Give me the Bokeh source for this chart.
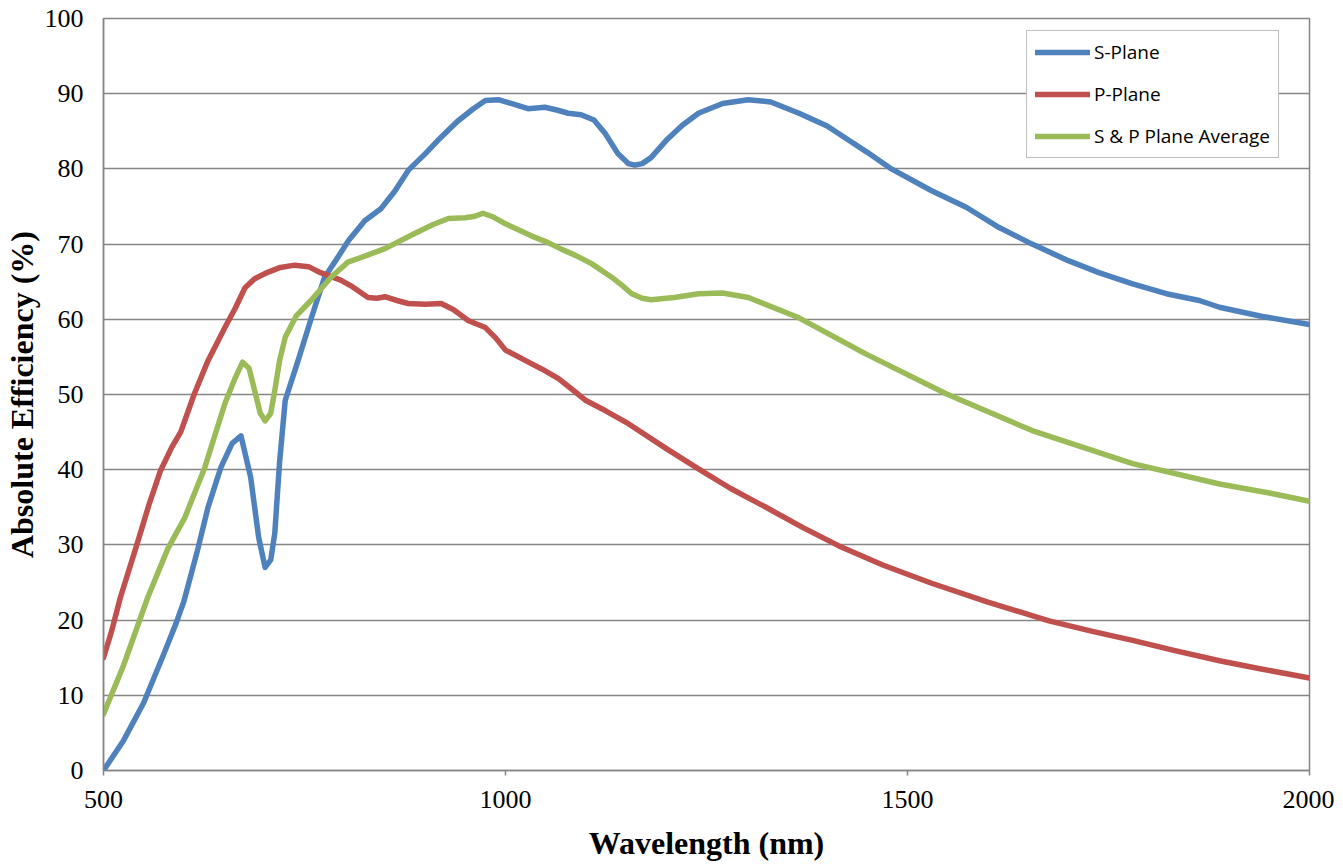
from bokeh.plotting import figure
from bokeh.models import Range1d, Legend, LegendItem, FixedTicker
from bokeh.embed import file_html
from bokeh.resources import INLINE

# ---------------- data ----------------
s_wl = [500, 525, 550, 575, 590, 600, 617, 630, 646, 660, 671, 683, 693, 701, 708, 713, 719, 726, 742, 758,
        775, 790, 805, 825, 845, 862, 879, 900, 916, 940, 960, 975, 991, 1007, 1028, 1049, 1065,
        1078, 1094, 1110, 1124, 1140, 1153, 1161, 1170, 1181, 1200, 1220, 1240, 1270, 1302, 1330,
        1365, 1400, 1427, 1450, 1480, 1530, 1573, 1614, 1655, 1700, 1738, 1780, 1822, 1863, 1888,
        1940, 2000]
s_eff = [0, 4, 9, 15.5, 19.5, 22.5, 29.3, 35, 40.3, 43.5, 44.5, 39, 31, 27, 28, 31.5, 41, 49.2, 54.5, 60,
         65.6, 68, 70.5, 73.1, 74.7, 77, 79.8, 82, 83.8, 86.3, 88, 89.1, 89.2, 88.7, 88.0, 88.2, 87.8,
         87.4, 87.2, 86.5, 84.7, 82, 80.7, 80.5, 80.7, 81.5, 83.8, 85.8, 87.4, 88.7, 89.2, 88.9,
         87.4, 85.7, 83.8, 82.2, 80, 77.1, 74.9, 72.2, 70, 67.8, 66.2, 64.7, 63.4, 62.5, 61.6,
         60.4, 59.3]

p_wl = [500, 510, 521, 542, 557, 571, 585, 596, 613, 630, 651, 664, 676, 688, 701, 720, 738, 755,
        770, 785, 795, 810, 829, 840, 850, 865, 879, 900, 920, 935, 954, 975, 988, 1000, 1025, 1045,
        1066, 1085, 1100, 1125, 1150, 1200, 1240, 1280, 1324, 1370, 1414, 1470, 1530, 1600, 1676,
        1730, 1780, 1830, 1888, 1940, 2000]
p_eff = [15, 18.5, 23, 30.2, 35.5, 39.9, 43, 45, 50.1, 54.5, 58.9, 61.5, 64.2, 65.4, 66.1, 66.9,
         67.2, 67.0, 66.2, 65.6, 65.2, 64.3, 62.9, 62.8, 63.0, 62.5, 62.1, 62.0, 62.1, 61.3, 59.8,
         58.9, 57.5, 55.9, 54.5, 53.4, 52.1, 50.5, 49.2, 47.8, 46.3, 42.8, 40.1, 37.5, 35.0, 32.3,
         29.9, 27.3, 24.9, 22.4, 19.9, 18.5, 17.3, 16.0, 14.6, 13.5, 12.3]

avg_wl = [500, 525, 555, 580, 601, 626, 651, 663, 673, 681, 688, 695, 701, 708, 713, 719, 726, 740,
          758, 783, 804, 825, 850, 887, 910, 929, 950, 962, 972, 985, 1000, 1032, 1053, 1070, 1087,
          1107, 1132, 1145, 1157, 1170, 1181, 1210, 1240, 1270, 1302, 1365, 1448, 1548, 1655, 1780,
          1888, 1950, 2000]
avg_eff = [7.5, 14, 23, 29.5, 33.6, 40.3, 48.8, 52, 54.3, 53.5, 50.5, 47.5, 46.5, 47.5, 50.5, 54.5,
           57.6, 60.5, 62.5, 65.6, 67.6, 68.4, 69.4, 71.4, 72.6, 73.4, 73.5, 73.7, 74.1, 73.6, 72.7,
           71.1, 70.2, 69.3, 68.5, 67.4, 65.6, 64.5, 63.4, 62.8, 62.6, 62.9, 63.4, 63.5, 62.9, 60.2,
           55.4, 50.1, 45.2, 40.8, 38.1, 36.9, 35.8]

series_names = ["S-Plane", "P-Plane", "S & P Plane Average"]
x_ticks = [500, 1000, 1500, 2000]
y_ticks = [0, 10, 20, 30, 40, 50, 60, 70, 80, 90, 100]

# ---------------- styling ----------------
colors = ["#4F81BD", "#C0504D", "#9BBB59"]
grid_col = "#868686"
serif = "Liberation Serif"

p = figure(frame_width=1206, frame_height=752,
           min_border_left=99, min_border_right=25, min_border_top=18, min_border_bottom=86,
           x_range=Range1d(500, 2000), y_range=Range1d(0, 100),
           output_backend="svg", toolbar_location=None,
           x_axis_label="Wavelength (nm)", y_axis_label="Absolute Efficiency (%)")

p.background_fill_color = "white"
p.border_fill_color = "white"
p.outline_line_color = grid_col
p.outline_line_width = 1.5

p.xgrid.grid_line_color = None
p.ygrid.grid_line_color = grid_col
p.ygrid.grid_line_width = 1.5

p.xaxis.ticker = FixedTicker(ticks=x_ticks)
p.yaxis.ticker = FixedTicker(ticks=y_ticks)
for ax in (p.xaxis, p.yaxis):
    ax.axis_line_color = grid_col
    ax.axis_line_width = 1.5
    ax.minor_tick_line_color = None
    ax.major_label_text_font = serif
    ax.major_label_text_font_size = "26px"
    ax.major_label_text_color = "black"
    ax.axis_label_text_font = serif
    ax.axis_label_text_font_style = "bold"
    ax.axis_label_text_font_size = "32px"
    ax.axis_label_text_color = "black"

p.xaxis.major_tick_line_color = grid_col
p.xaxis.major_tick_line_width = 1.5
p.xaxis.major_tick_out = 5
p.xaxis.major_tick_in = 0
p.xaxis.major_label_standoff = 15
p.xaxis.axis_label_standoff = 14

p.yaxis.major_tick_line_color = None
p.yaxis.major_tick_out = 0
p.yaxis.major_tick_in = 0
p.yaxis.major_label_standoff = 20
p.yaxis.axis_label_standoff = 2

r_s = p.line(s_wl, s_eff, line_color=colors[0], line_width=5.5, line_join="round", line_cap="round")
r_p = p.line(p_wl, p_eff, line_color=colors[1], line_width=5.5, line_join="round", line_cap="round")
r_a = p.line(avg_wl, avg_eff, line_color=colors[2], line_width=5.5, line_join="round", line_cap="round")

legend = Legend(items=[LegendItem(label=series_names[0], renderers=[r_s]),
                       LegendItem(label=series_names[1], renderers=[r_p]),
                       LegendItem(label=series_names[2], renderers=[r_a])],
                location=(923, 612), margin=0,
                padding=8, spacing=16,
                glyph_width=55, glyph_height=22, label_height=22, label_standoff=4,
                label_text_font="Open Sans", label_text_font_size="19px",
                label_text_color="black",
                border_line_color="#7f7f7f", border_line_width=1.5,
                background_fill_color="white", background_fill_alpha=1.0)
p.add_layout(legend, "center")

open("out.html", "w").write(file_html(p, INLINE))
